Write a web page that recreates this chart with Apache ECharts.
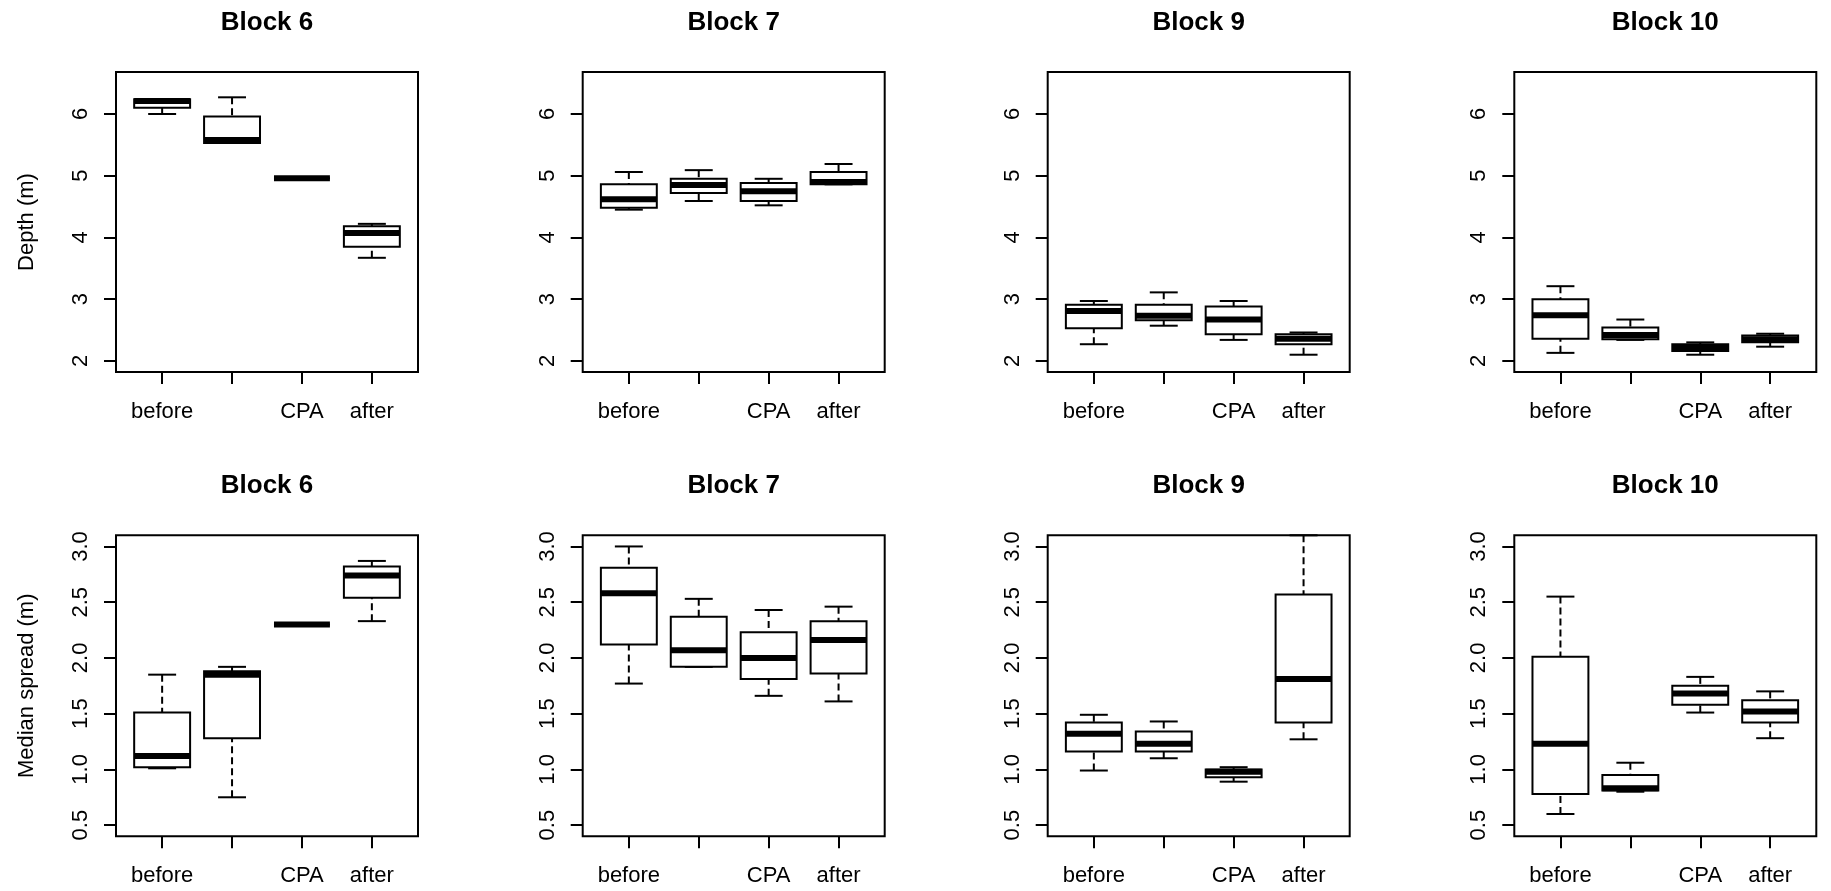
<!DOCTYPE html>
<html>
<head>
<meta charset="utf-8">
<script src="https://cdn.jsdelivr.net/npm/echarts@6/dist/echarts.min.js"></script>
<style>
html,body{margin:0;padding:0;background:#fff;}
#chart{width:1831px;height:891px;}
</style>
</head>
<body>
<div id="chart"></div>
<script>
// ---- data (each box: [min, Q1, median, Q3, max]) ----
const categories = ['before', '', 'CPA', 'after'];
const blockNames = ['Block 6', 'Block 7', 'Block 9', 'Block 10'];
const depthTicks = [2, 3, 4, 5, 6];
const spreadTicks = [0.5, 1.0, 1.5, 2.0, 2.5, 3.0];

const depthB6  = [[6.00, 6.10, 6.21, 6.24, 6.24], [5.53, 5.53, 5.58, 5.96, 6.27], [4.96, 4.96, 4.96, 4.96, 4.96], [3.67, 3.85, 4.07, 4.18, 4.22]];
const depthB7  = [[4.45, 4.48, 4.62, 4.86, 5.06], [4.59, 4.72, 4.85, 4.95, 5.09], [4.52, 4.59, 4.75, 4.88, 4.95], [4.86, 4.86, 4.90, 5.06, 5.19]];
const depthB9  = [[2.27, 2.53, 2.81, 2.91, 2.97], [2.57, 2.66, 2.73, 2.91, 3.11], [2.34, 2.43, 2.67, 2.88, 2.97], [2.10, 2.27, 2.36, 2.43, 2.46]];
const depthB10 = [[2.13, 2.36, 2.74, 3.00, 3.21], [2.34, 2.35, 2.42, 2.54, 2.67], [2.10, 2.16, 2.21, 2.27, 2.30], [2.23, 2.30, 2.35, 2.41, 2.44]];

const spreadB6  = [[1.01, 1.02, 1.12, 1.51, 1.85], [0.75, 1.28, 1.85, 1.88, 1.92], [2.30, 2.30, 2.30, 2.30, 2.30], [2.33, 2.54, 2.74, 2.82, 2.87]];
const spreadB7  = [[1.77, 2.12, 2.58, 2.81, 3.00], [1.92, 1.92, 2.07, 2.37, 2.53], [1.66, 1.81, 2.00, 2.23, 2.43], [1.61, 1.86, 2.16, 2.33, 2.46]];
const spreadB9  = [[0.99, 1.16, 1.32, 1.42, 1.49], [1.10, 1.16, 1.23, 1.34, 1.43], [0.89, 0.93, 0.98, 1.00, 1.02], [1.27, 1.42, 1.81, 2.57, 3.10]];
const spreadB10 = [[0.60, 0.78, 1.23, 2.01, 2.55], [0.80, 0.81, 0.83, 0.95, 1.06], [1.51, 1.58, 1.68, 1.75, 1.83], [1.28, 1.42, 1.52, 1.62, 1.70]];

const depthRows = [depthB6, depthB7, depthB9, depthB10];
const spreadRows = [spreadB6, spreadB7, spreadB9, spreadB10];

// ---- layout ----
const FONT = '"Liberation Sans", Arial, Helvetica, sans-serif';
const colLefts = [116, 582.7, 1047.7, 1514.3];
const plotW = 302;
const rowTops = [72, 535.3];
const plotH = [300, 301];
const titleY = [23, 486];

const rows = [
  {data: depthRows, ticks: depthTicks, min: 1.82, max: 6.68, name: 'Depth (m)', fmt: v => String(v)},
  {data: spreadRows, ticks: spreadTicks, min: 0.4, max: 3.1, name: 'Median spread (m)', fmt: v => v.toFixed(1)}
];

function renderBox(params, api) {
  const x = api.value(0);
  const lo = api.value(1), q1 = api.value(2), md = api.value(3), q3 = api.value(4), hi = api.value(5);
  const unit = api.size([1, 0])[0];
  const half = unit * 0.4, staple = unit * 0.2;
  const pLo = api.coord([x, lo]), pQ1 = api.coord([x, q1]), pMd = api.coord([x, md]);
  const pQ3 = api.coord([x, q3]), pHi = api.coord([x, hi]);
  const cx = pMd[0];
  const dashed = {stroke: '#000', lineWidth: 2, lineDash: [7, 4]};
  const thin = {stroke: '#000', lineWidth: 2};
  return {
    type: 'group',
    children: [
      {type: 'line', shape: {x1: cx, y1: pHi[1], x2: cx, y2: pQ3[1]}, style: dashed},
      {type: 'line', shape: {x1: cx, y1: pLo[1], x2: cx, y2: pQ1[1]}, style: dashed},
      {type: 'line', shape: {x1: cx - staple, y1: pHi[1], x2: cx + staple, y2: pHi[1]}, style: thin},
      {type: 'line', shape: {x1: cx - staple, y1: pLo[1], x2: cx + staple, y2: pLo[1]}, style: thin},
      {type: 'rect', shape: {x: cx - half, y: pQ3[1], width: 2 * half, height: pQ1[1] - pQ3[1]},
        style: {fill: '#fff', stroke: '#000', lineWidth: 2}},
      {type: 'line', shape: {x1: cx - half, y1: pMd[1], x2: cx + half, y2: pMd[1]},
        style: {stroke: '#000', lineWidth: 6, lineCap: 'butt'}}
    ]
  };
}

const grids = [], xAxes = [], yAxes = [], series = [], graphics = [];
rows.forEach((row, r) => {
  blockNames.forEach((bn, c) => {
    const idx = grids.length;
    grids.push({
      left: colLefts[c], top: rowTops[r], width: plotW, height: plotH[r],
      show: true, borderColor: '#000', borderWidth: 2, backgroundColor: 'transparent'
    });
    xAxes.push({
      gridIndex: idx, type: 'value', min: 0.34, max: 4.66,
      axisLine: {show: false}, splitLine: {show: false},
      axisTick: {show: true, customValues: [1, 2, 3, 4], length: 12, lineStyle: {color: '#000', width: 2}},
      axisLabel: {customValues: [1, 2, 3, 4], formatter: v => categories[Math.round(v) - 1],
        margin: 29, fontSize: 22, color: '#000', fontFamily: FONT}
    });
    const ya = {
      gridIndex: idx, type: 'value', min: row.min, max: row.max,
      axisLine: {show: false}, splitLine: {show: false},
      axisTick: {show: true, customValues: row.ticks, length: 12, lineStyle: {color: '#000', width: 2}},
      axisLabel: {customValues: row.ticks, formatter: row.fmt, rotate: 90,
        margin: 24, fontSize: 22, color: '#000', fontFamily: FONT}
    };
    if (c === 0) {
      ya.name = row.name;
      ya.nameLocation = 'middle';
      ya.nameGap = 78;
      ya.nameTextStyle = {fontSize: 22, color: '#000', fontFamily: FONT};
    }
    yAxes.push(ya);
    series.push({
      type: 'custom', xAxisIndex: idx, yAxisIndex: idx,
      renderItem: renderBox,
      encode: {x: 0, y: [1, 2, 3, 4, 5]},
      data: row.data[c].map((s, i) => [i + 1].concat(s)),
      silent: true, animation: false
    });
    graphics.push({
      type: 'text', x: colLefts[c] + plotW / 2, y: titleY[r],
      style: {text: bn, textAlign: 'center', textVerticalAlign: 'middle',
        font: 'bold 26px ' + FONT, fill: '#000'}
    });
  });
});

const chart = echarts.init(document.getElementById('chart'));
chart.setOption({
  animation: false,
  backgroundColor: '#fff',
  grid: grids, xAxis: xAxes, yAxis: yAxes, series: series,
  graphic: graphics
});
</script>
</body>
</html>
